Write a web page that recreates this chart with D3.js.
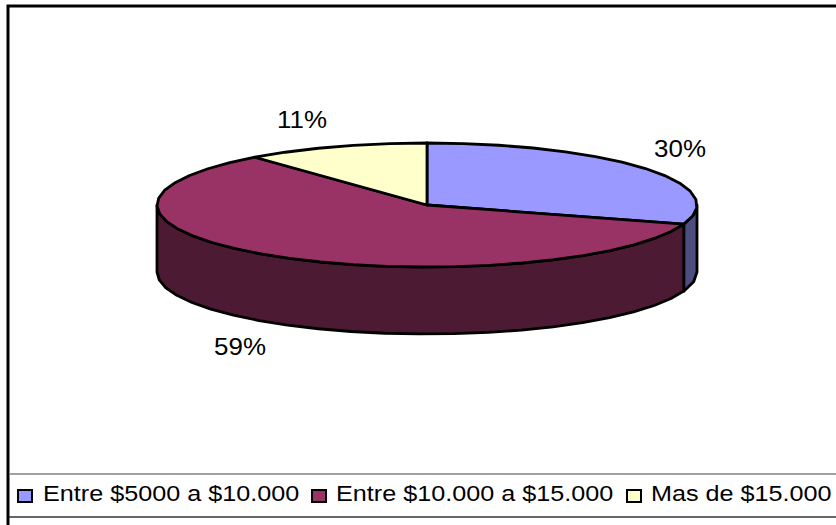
<!DOCTYPE html>
<html><head><meta charset="utf-8">
<script src="https://cdn.jsdelivr.net/npm/d3@7/dist/d3.min.js"></script>
<style>html,body{margin:0;padding:0;background:#fff}svg{display:block}text{font-family:"Liberation Sans",Arial,sans-serif;fill:#000}</style>
</head><body><svg id="c" width="836" height="525"></svg>
<script>
const categories=["Entre $5000 a $10.000","Entre $10.000 a $15.000","Mas de $15.000"];
const values=[30,59,11];
const labels=["30%","59%","11%"];
const topColors=["#9999ff","#993366","#ffffcc"];
const sideColors=["#4d4d80","#4d1a33","#808066"];
const labelAnchors=[[680,157],[240,355],[302,128]];
const legendX=[[18,43],[312,336],[627,651]];
const cx=427,cy=205,rx=270,ry=62,depth=67;
const svg=d3.select("#c");
svg.append("rect").attr("x",8).attr("y",6).attr("width",840).attr("height",530).attr("fill","#fff").attr("stroke","#000").attr("stroke-width",3);
const arcs=d3.pie().sort(null)(values);
const px=d3.scaleLinear().domain([-1,1]).range([cx-rx,cx+rx]);
const py=d3.scaleLinear().domain([-1,1]).range([cy+ry,cy-ry]);
const line=d3.line();
const P=(a,dy=0)=>[px(Math.sin(a)),py(Math.cos(a))+dy];
function samples(a0,a1){const n=Math.max(2,Math.round((a1-a0)/0.13));return d3.range(n+1).map(i=>a0+(a1-a0)*i/n);}
[0,1].forEach(i=>{
  const a0=Math.max(arcs[i].startAngle,Math.PI/2),a1=Math.min(arcs[i].endAngle,1.5*Math.PI);
  if(a1<=a0)return;
  const s=samples(a0,a1);
  const pts=s.map(a=>P(a)).concat(s.slice().reverse().map(a=>P(a,depth)));
  svg.append("path").attr("d",line(pts)+"Z").attr("fill",sideColors[i]).attr("stroke","#000").attr("stroke-width",2.8).attr("stroke-linejoin","round");
});
arcs.forEach((d,i)=>{
  const pts=[[cx,cy]].concat(samples(d.startAngle,d.endAngle).map(a=>P(a)));
  svg.append("path").attr("d",line(pts)+"Z").attr("fill",topColors[i]).attr("stroke","#000").attr("stroke-width",2.8).attr("stroke-linejoin","round");
});
labels.forEach((t,i)=>{
  svg.append("text").attr("transform",`translate(${labelAnchors[i][0]},${labelAnchors[i][1]}) scale(1.08,1)`).attr("text-anchor","middle").attr("font-size",24).text(t);
});
svg.append("line").attr("x1",9).attr("x2",836).attr("y1",474).attr("y2",474).attr("stroke","#808080").attr("stroke-width",1.5);
svg.append("line").attr("x1",9).attr("x2",836).attr("y1",517).attr("y2",517).attr("stroke","#333").attr("stroke-width",1.5);
categories.forEach((t,i)=>{
  svg.append("rect").attr("x",legendX[i][0]).attr("y",490).attr("width",14).attr("height",12).attr("fill",topColors[i]).attr("stroke","#000").attr("stroke-width",2);
  svg.append("text").attr("transform",`translate(${legendX[i][1]},501) scale(1.13,1)`).attr("font-size",22.3).text(t);
});
</script></body></html>
